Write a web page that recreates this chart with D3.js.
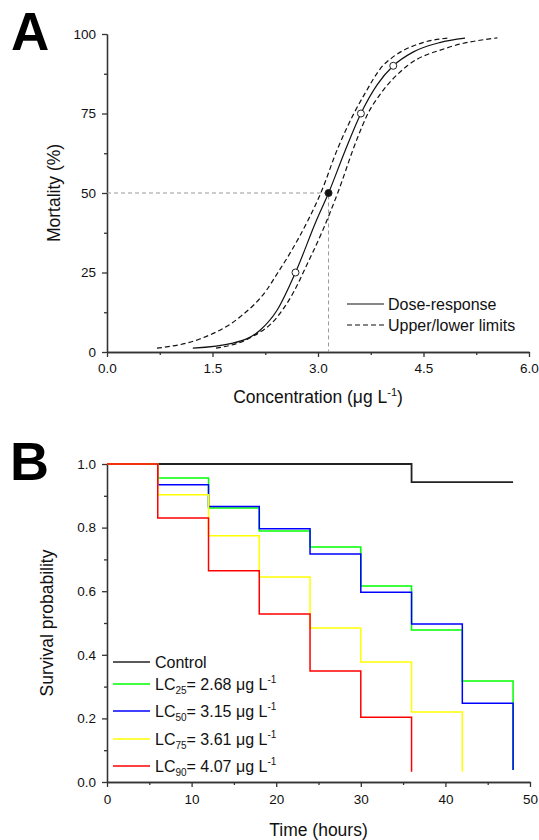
<!DOCTYPE html>
<html>
<head>
<meta charset="utf-8">
<script src="https://cdn.jsdelivr.net/npm/d3@7"></script>
<style>
  html, body { margin: 0; padding: 0; background: #fff; }
  svg { display: block; font-family: "Liberation Sans", Arial, sans-serif; }
</style>
</head>
<body>
<svg id="chart" width="539" height="840"></svg>
<script>
// ---------- Panel A data ----------
const concTicks = [0, 1.5, 3.0, 4.5, 6.0];
const mortTicks = [0, 25, 50, 75, 100];
// Dose-response curve (concentration, mortality %)
const doseConc = [1.22, 1.79, 2.18, 2.42, 2.68, 2.98, 3.15, 3.38, 3.61, 3.84, 4.07, 4.35, 4.73, 5.09];
const doseMort = [1.2, 2.8, 6.9, 13.2, 25, 41.5, 50, 63, 75, 84, 90, 94.3, 97.3, 98.7];
// Upper limit (left dashed)
const upperConc = [0.71, 1.32, 1.89, 2.27, 2.43, 2.60, 2.86, 3.04, 3.28, 3.51, 3.66, 3.92, 4.05, 4.49, 4.85];
const upperMort = [1.2, 4.1, 11, 19.5, 25, 31, 41.5, 50, 64, 75, 81, 90, 92.5, 97.3, 98.7];
// Lower limit (right dashed)
const lowerConc = [1.55, 2.03, 2.42, 2.74, 2.79, 3.07, 3.28, 3.55, 3.71, 3.90, 4.27, 4.83, 5.55];
const lowerMort = [1.2, 4.4, 11, 22.6, 25, 38.4, 50, 66.7, 75, 81.5, 90, 95.6, 98.8];
// Lethal concentrations
const lcConc = [2.68, 3.15, 3.61, 4.07];
const lcMort = [25, 50, 75, 90];
const lcFilled = [false, true, false, false];

// ---------- Panel B data ----------
const timeTicks = [0, 10, 20, 30, 40, 50];
const survTicks = [0.0, 0.2, 0.4, 0.6, 0.8, 1.0];
const controlTime = [0, 6, 12, 18, 24, 30, 36, 42, 48];
const controlSurv = [1, 1, 1, 1, 1, 1, 0.943, 0.943, 0.943];
const lc25Time = [0, 6, 12, 18, 24, 30, 36, 42, 48];
const lc25Surv = [1, 0.956, 0.862, 0.789, 0.739, 0.616, 0.478, 0.318, 0.038];
const lc50Time = [0, 6, 12, 18, 24, 30, 36, 42, 48];
const lc50Surv = [1, 0.935, 0.866, 0.796, 0.717, 0.597, 0.497, 0.248, 0.038];
const lc75Time = [0, 6, 12, 18, 24, 30, 36, 42];
const lc75Surv = [1, 0.903, 0.774, 0.645, 0.484, 0.377, 0.220, 0.032];
const lc90Time = [0, 6, 12, 18, 24, 30, 36];
const lc90Surv = [1, 0.830, 0.664, 0.528, 0.349, 0.204, 0.032];

const seriesNames = ["Control", "LC25", "LC50", "LC75", "LC90"];
const seriesSub = ["", "25", "50", "75", "90"];
const seriesConc = ["", "2.68", "3.15", "3.61", "4.07"];
const seriesColors = ["#222222", "#00ff00", "#0000ff", "#ffff00", "#ff0000"];

const svg = d3.select("#chart");
const axisColor = "#333";
const textColor = "#111";

function styleAxis(g) {
  g.selectAll("path.domain").attr("stroke", axisColor).attr("stroke-width", 1.3);
  g.selectAll(".tick line").attr("stroke", axisColor).attr("stroke-width", 1.3);
  g.selectAll(".tick text").attr("fill", textColor).attr("font-size", "13.5px")
    .attr("font-family", "Liberation Sans, Arial, sans-serif");
}

// ================= Panel A =================
const xA = d3.scaleLinear().domain([0, 6]).range([107, 529]);
const yA = d3.scaleLinear().domain([0, 100]).range([352, 34]);

const minorConc = d3.range(0.75, 6, 1.5);
const minorMort = d3.range(12.5, 100, 25);

svg.append("g").attr("transform", "translate(0,352)")
  .call(d3.axisBottom(xA).tickValues(minorConc).tickSize(3).tickFormat("").tickSizeOuter(0))
  .call(styleAxis);
svg.append("g").attr("transform", "translate(107,0)")
  .call(d3.axisLeft(yA).tickValues(minorMort).tickSize(3).tickFormat("").tickSizeOuter(0))
  .call(styleAxis);
svg.append("g").attr("transform", "translate(0,352)")
  .call(d3.axisBottom(xA).tickValues(concTicks).tickFormat(d3.format(".1f")).tickSize(5).tickPadding(6).tickSizeOuter(0))
  .call(styleAxis);
svg.append("g").attr("transform", "translate(107,0)")
  .call(d3.axisLeft(yA).tickValues(mortTicks).tickFormat(d3.format("d")).tickSize(5).tickPadding(6).tickSizeOuter(0))
  .call(styleAxis);

// reference gray dashed lines at LC50
const lc50x = lcConc[1], lc50y = lcMort[1];
svg.append("path")
  .attr("d", d3.line()([[xA(0), yA(lc50y)], [xA(lc50x), yA(lc50y)], [xA(lc50x), yA(0)]]))
  .attr("fill", "none").attr("stroke", "#999").attr("stroke-width", 1).attr("stroke-dasharray", "4,3");

const lineA = d3.line().x(d => xA(d[0])).y(d => yA(d[1])).curve(d3.curveMonotoneX);
function zip(a, b) { return a.map((v, i) => [v, b[i]]); }

svg.append("path").datum(zip(upperConc, upperMort)).attr("d", lineA)
  .attr("fill", "none").attr("stroke", "#111").attr("stroke-width", 1.2).attr("stroke-dasharray", "5,3");
svg.append("path").datum(zip(lowerConc, lowerMort)).attr("d", lineA)
  .attr("fill", "none").attr("stroke", "#111").attr("stroke-width", 1.2).attr("stroke-dasharray", "5,3");
svg.append("path").datum(zip(doseConc, doseMort)).attr("d", lineA)
  .attr("fill", "none").attr("stroke", "#111").attr("stroke-width", 1.2);

svg.selectAll("circle.lc").data(lcConc.map((c, i) => ({c, m: lcMort[i], f: lcFilled[i]})))
  .enter().append("circle").attr("class", "lc")
  .attr("cx", d => xA(d.c)).attr("cy", d => yA(d.m)).attr("r", 3.5)
  .attr("fill", d => d.f ? "#111" : "#fff").attr("stroke", "#222").attr("stroke-width", 1);

// legend A
const legA = svg.append("g");
legA.append("line").attr("x1", 347).attr("x2", 384).attr("y1", 304).attr("y2", 304)
  .attr("stroke", "#111").attr("stroke-width", 1.2);
legA.append("text").attr("x", 388).attr("y", 304).attr("dy", "0.35em")
  .attr("font-size", "16px").attr("fill", textColor).text("Dose-response");
legA.append("line").attr("x1", 347).attr("x2", 384).attr("y1", 325).attr("y2", 325)
  .attr("stroke", "#111").attr("stroke-width", 1.2).attr("stroke-dasharray", "5,3");
legA.append("text").attr("x", 388).attr("y", 325).attr("dy", "0.35em")
  .attr("font-size", "16px").attr("fill", textColor).text("Upper/lower limits");

// axis titles A
const xTitleA = svg.append("text").attr("x", 318).attr("y", 403).attr("text-anchor", "middle")
  .attr("font-size", "17.5px").attr("fill", textColor);
xTitleA.append("tspan").text("Concentration (μg L");
xTitleA.append("tspan").attr("font-size", "11px").attr("dy", "-7").text("-1");
xTitleA.append("tspan").attr("dy", "7").text(")");

svg.append("text").attr("transform", "translate(54,193) rotate(-90)")
  .attr("text-anchor", "middle").attr("dy", "0.35em")
  .attr("font-size", "17.5px").attr("fill", textColor).text("Mortality (%)");

svg.append("text").attr("x", 11).attr("y", 50).attr("font-size", "53px").attr("font-weight", "bold")
  .attr("fill", "#000").text("A");

// ================= Panel B =================
const xB = d3.scaleLinear().domain([0, 50]).range([107, 530]);
const yB = d3.scaleLinear().domain([0, 1]).range([782, 464]);

svg.append("g").attr("transform", "translate(0,782)")
  .call(d3.axisBottom(xB).tickValues(d3.range(5, 50, 10)).tickSize(3).tickFormat("").tickSizeOuter(0))
  .call(styleAxis);
svg.append("g").attr("transform", "translate(107,0)")
  .call(d3.axisLeft(yB).tickValues(d3.range(0.1, 1, 0.2)).tickSize(3).tickFormat("").tickSizeOuter(0))
  .call(styleAxis);
svg.append("g").attr("transform", "translate(0,782)")
  .call(d3.axisBottom(xB).tickValues(timeTicks).tickFormat(d3.format("d")).tickSize(5).tickPadding(7).tickSizeOuter(0))
  .call(styleAxis);
svg.append("g").attr("transform", "translate(107,0)")
  .call(d3.axisLeft(yB).tickValues(survTicks).tickFormat(d3.format(".1f")).tickSize(5).tickPadding(6).tickSizeOuter(0))
  .call(styleAxis);

const lineB = d3.line().x(d => xB(d[0])).y(d => yB(d[1])).curve(d3.curveStepAfter);
const seriesData = [
  zip(controlTime, controlSurv),
  zip(lc25Time, lc25Surv),
  zip(lc50Time, lc50Surv),
  zip(lc75Time, lc75Surv),
  zip(lc90Time, lc90Surv)
];
seriesData.forEach((d, i) => {
  svg.append("path").datum(d).attr("d", lineB)
    .attr("fill", "none").attr("stroke", seriesColors[i])
    .attr("stroke-width", i === 0 ? 1.8 : 1.5);
});

// legend B
const legRows = [662, 684, 711, 739, 766];
seriesNames.forEach((name, i) => {
  const y = legRows[i];
  svg.append("line").attr("x1", 113).attr("x2", 150).attr("y1", y).attr("y2", y)
    .attr("stroke", seriesColors[i]).attr("stroke-width", 1.5);
  const t = svg.append("text").attr("x", 155).attr("y", y + 6)
    .attr("font-size", "16px").attr("fill", textColor);
  if (i === 0) {
    t.text(name);
  } else {
    t.append("tspan").text("LC");
    t.append("tspan").attr("font-size", "10px").attr("dy", "4").text(seriesSub[i]);
    t.append("tspan").attr("dy", "-4").text("= " + seriesConc[i] + " μg L");
    t.append("tspan").attr("font-size", "10px").attr("dy", "-7").text("-1");
  }
});

svg.append("text").attr("x", 318.5).attr("y", 836).attr("text-anchor", "middle")
  .attr("font-size", "17.5px").attr("fill", textColor).text("Time (hours)");
svg.append("text").attr("transform", "translate(47,623) rotate(-90)")
  .attr("text-anchor", "middle").attr("dy", "0.35em")
  .attr("font-size", "17.5px").attr("fill", textColor).text("Survival probability");

svg.append("text").attr("x", 10).attr("y", 480).attr("font-size", "54px").attr("font-weight", "bold")
  .attr("fill", "#000").text("B");
</script>
</body>
</html>
